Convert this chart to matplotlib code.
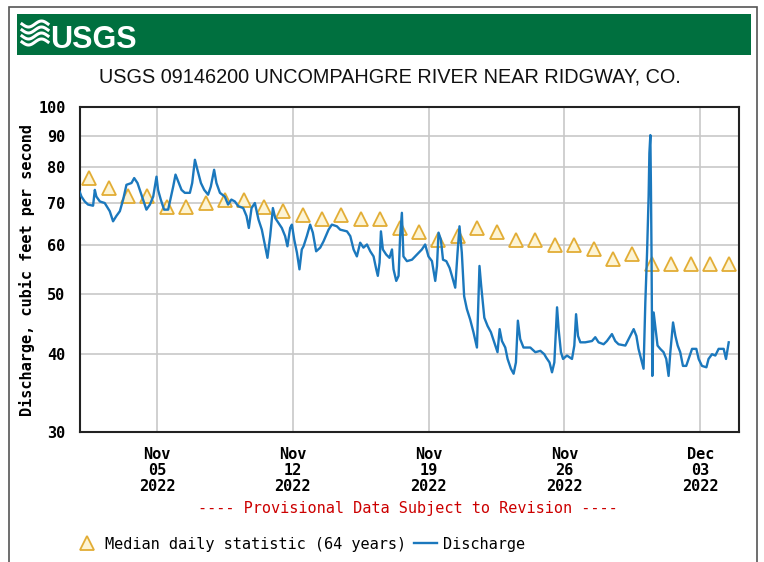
import numpy as np
import pandas as pd
from matplotlib import pyplot as plt
from matplotlib import dates as mdates
from matplotlib import font_manager
from matplotlib.lines import Line2D
from matplotlib.patches import Rectangle

W, H = 764, 562

start = pd.Timestamp("2022-11-01")

# Median daily statistic (64 years), one value per day from Nov 1 to Dec 4
median_cfs = [77, 74, 72, 72, 69, 69, 70, 71, 71, 69, 68, 67, 66, 67, 66, 66, 64,
              63, 61, 62, 64, 63, 61, 61, 60, 60, 59, 57, 58, 56, 56, 56, 56, 56]

# Discharge: days since Nov 1 00:00 and cfs
discharge_day = [
    0.00, 0.10, 0.27, 0.44, 0.70, 0.79, 0.87, 1.05, 1.30, 1.56, 1.73, 1.90, 2.08, 2.25,
    2.42, 2.68, 2.82, 2.99, 3.11, 3.28, 3.45, 3.63, 3.80, 3.97, 4.05, 4.19, 4.36, 4.57,
    4.66, 4.83, 4.95, 5.09, 5.26, 5.43, 5.69, 5.81, 5.95, 6.08, 6.26, 6.43, 6.63, 6.77,
    6.94, 7.06, 7.24, 7.49, 7.66, 7.83, 8.01, 8.18, 8.44, 8.61, 8.73, 8.87, 9.04,
    9.23, 9.40, 9.57, 9.69, 9.83, 9.97, 10.09, 10.26, 10.43, 10.60, 10.72, 10.86, 10.95,
    11.07, 11.21, 11.34, 11.46, 11.55, 11.72, 11.89, 12.03, 12.20, 12.41, 12.58, 12.84,
    13.01, 13.27, 13.44, 13.79, 13.96, 14.13, 14.30, 14.47, 14.64, 14.82, 14.99, 15.16,
    15.30, 15.38, 15.47, 15.54, 15.64, 15.81, 15.98, 16.11, 16.19, 16.33, 16.45, 16.53,
    16.62, 16.70, 16.88, 17.14, 17.40, 17.65, 17.82, 17.99,
    18.17, 18.34, 18.43, 18.51, 18.63, 18.74, 18.91, 19.08, 19.20, 19.37, 19.49, 19.59,
    19.71, 19.83, 19.97, 20.14, 20.31, 20.49, 20.57, 20.62, 20.71, 20.87, 21.04, 21.21,
    21.38, 21.55, 21.66, 21.78, 21.95, 22.07, 22.24, 22.38, 22.50, 22.60, 22.72, 22.89,
    23.24, 23.50, 23.76, 23.96, 24.06, 24.23, 24.36, 24.48, 24.62, 24.70, 24.82, 24.93,
    25.13, 25.39, 25.51, 25.60, 25.70, 25.82,
    26.07, 26.42, 26.59, 26.76, 27.02, 27.19, 27.45, 27.62, 27.79, 28.14, 28.31, 28.57,
    28.71, 28.82, 28.95, 29.08, 29.17, 29.26, 29.34, 29.38, 29.43, 29.46, 29.49, 29.53,
    29.60, 29.68, 29.80, 29.94, 30.11, 30.25, 30.37, 30.46, 30.60, 30.72, 30.84, 30.97,
    31.11, 31.28, 31.40, 31.58, 31.80, 31.92, 32.09, 32.32, 32.43, 32.61, 32.78, 32.95,
    33.21, 33.33, 33.47,
]
discharge_cfs = [
    73.2, 71.8, 70.5, 69.7, 69.4, 73.6, 71.8, 70.5, 70.1, 68.0, 65.5, 66.8, 68.0, 71.0,
    75.0, 75.5, 76.9, 75.5, 73.6, 71.0, 68.4, 69.7, 71.8, 77.3, 73.6, 71.0, 68.4, 68.4,
    70.5, 74.5, 77.9, 75.9, 73.6, 72.8, 72.8, 75.5, 82.3, 79.3, 75.5, 73.6, 72.3, 74.5,
    79.3, 75.5, 72.8, 71.8, 69.7, 71.0, 70.5, 69.3, 68.8, 66.8, 63.9, 68.8, 70.1,
    65.9, 63.5, 59.7, 57.2, 62.0, 68.8, 66.3, 65.1, 63.9, 62.0, 59.7, 63.9, 64.7,
    61.2, 58.3, 54.8, 59.0, 59.7, 62.0, 64.7, 62.8, 58.6, 59.4, 60.8, 63.5,
    64.7, 64.3, 63.5, 63.1, 62.0, 59.0, 57.5, 60.5, 59.4, 60.1, 58.6, 57.5,
    54.8, 53.5, 56.2, 63.1, 59.0, 57.9, 57.2, 59.0, 54.8, 52.5, 53.5, 62.0,
    67.6, 57.5, 56.5, 56.8, 57.9, 59.0, 60.1, 57.5,
    56.5, 52.5, 55.5, 62.8, 61.2, 56.8, 56.5, 55.1, 53.5, 51.2, 58.3, 64.3,
    58.3, 49.6, 47.3, 45.5, 43.4, 41.0, 49.6, 55.5, 51.5, 45.8, 44.4, 43.4,
    41.8, 40.3, 43.9, 42.0, 41.0, 39.3, 37.9, 37.2, 38.8, 45.3, 42.3, 41.0,
    41.0, 40.3, 40.5, 40.0, 39.5, 38.8, 37.4, 38.8, 47.6, 43.9, 40.3, 39.3,
    39.8, 39.3, 41.3, 46.4, 42.8, 41.8,
    41.8, 42.0, 42.6, 41.8, 41.5, 42.0, 43.1, 42.0, 41.5, 41.3, 42.3, 43.9,
    42.8, 40.8, 39.3, 37.9, 48.4, 58.3, 71.8, 84.4, 90.2, 74.5, 58.3, 36.9,
    46.7, 44.4, 41.3, 40.8, 40.3, 39.3, 36.9, 40.3, 45.0, 42.8, 41.3, 40.3,
    38.3, 38.3, 39.3, 40.8, 40.8, 39.3, 38.3, 38.1, 39.3, 40.0, 39.8, 40.8,
    40.8, 39.3, 41.8,
]

y_ticks = [30, 40, 50, 60, 70, 80, 90, 100]
x_ticks = ["2022-11-05", "2022-11-12", "2022-11-19", "2022-11-26", "2022-12-03"]

median_time = start + pd.to_timedelta(np.arange(len(median_cfs)) + 0.5, unit="D")
discharge_time = start + pd.to_timedelta(discharge_day, unit="D")

names = {f.name for f in font_manager.fontManager.ttflist}
logo_font = "Liberation Sans Narrow" if "Liberation Sans Narrow" in names else "Liberation Sans"
mono = "DejaVu Sans Mono"
fs = 11


def fx(px):
    return px / W


def fy(py):
    return 1 - py / H


fig = plt.figure(figsize=(W / 100, H / 100), dpi=100)

# outer frame and USGS banner
fig.add_artist(Rectangle((fx(9), fy(575)), fx(757) - fx(9), fy(7) - fy(575),
                         fill=False, edgecolor="#555555", lw=1.2, transform=fig.transFigure))
fig.add_artist(Rectangle((fx(17), fy(55)), fx(751) - fx(17), fy(14) - fy(55),
                         facecolor="#00703f", edgecolor="none", transform=fig.transFigure))
wave_x = np.linspace(22, 48, 40)
for off in [24, 30, 36, 42]:
    wave_y = off + 3.0 * np.sin((wave_x - 22) / 26 * 2 * np.pi)
    fig.add_artist(Line2D(fx(wave_x), fy(wave_y), color="white", lw=2.2,
                          transform=fig.transFigure))
fig.text(fx(50), fy(48), "USGS", color="white", fontsize=22, fontweight="bold",
         family=logo_font, va="baseline", ha="left")

fig.text(fx(390), fy(77), "USGS 09146200 UNCOMPAHGRE RIVER NEAR RIDGWAY, CO.",
         fontsize=14.3, family="Liberation Sans", ha="center", va="center", color="#111111")

ax = fig.add_axes([fx(79.5), fy(431.7), fx(739) - fx(79.5), fy(107.3) - fy(431.7)])

ax.plot(median_time, median_cfs, linestyle="none", marker="^", markersize=9.5,
        markerfacecolor="#fdf4d4", markeredgecolor="#e2ad35", markeredgewidth=1.3,
        label="Median daily statistic (64 years)", zorder=3)
ax.plot(discharge_time, discharge_cfs, color="#1b78bd", lw=1.7,
        label="Discharge", zorder=4)

ax.set_yscale("log")
ax.set_ylim(30, 100)
ax.set_yticks(y_ticks)
ax.set_yticklabels([str(v) for v in y_ticks])
ax.yaxis.set_minor_locator(plt.NullLocator())
ax.set_xlim(start, pd.Timestamp("2022-12-05"))
ax.set_xticks(pd.to_datetime(x_ticks))
ax.xaxis.set_major_formatter(mdates.DateFormatter("%b\n%d\n%Y"))

ax.grid(True, color="#c8c8c8", lw=1.2)
ax.set_axisbelow(True)
ax.tick_params(length=0, labelsize=fs)
ax.tick_params(axis="x", pad=11)
ax.tick_params(axis="y", pad=10)
for lab in ax.get_xticklabels() + ax.get_yticklabels():
    lab.set_family(mono)
    lab.set_fontweight("bold")
for lab in ax.get_xticklabels():
    lab.set_linespacing(1.1)
for side in ["left", "bottom", "top", "right"]:
    ax.spines[side].set_linewidth(1.5)
    ax.spines[side].set_color("#222222")

ax.set_ylabel("Discharge, cubic feet per second", family=mono, fontweight="bold",
              fontsize=fs)
ax.yaxis.set_label_coords((35 - 79.5) / (739 - 79.5), 0.5)

fig.text(fx(408), fy(509), "---- Provisional Data Subject to Revision ----",
         color="#cc0000", family=mono, fontsize=fs, ha="center", va="center")

fig.legend(loc="center left", bbox_to_anchor=(fx(76), fy(544)), ncol=2, frameon=False,
           prop={"family": mono, "size": fs}, handlelength=1.5, handletextpad=0.4,
           columnspacing=0.5, borderpad=0, borderaxespad=0)

fig.savefig("out.png", dpi=100)
